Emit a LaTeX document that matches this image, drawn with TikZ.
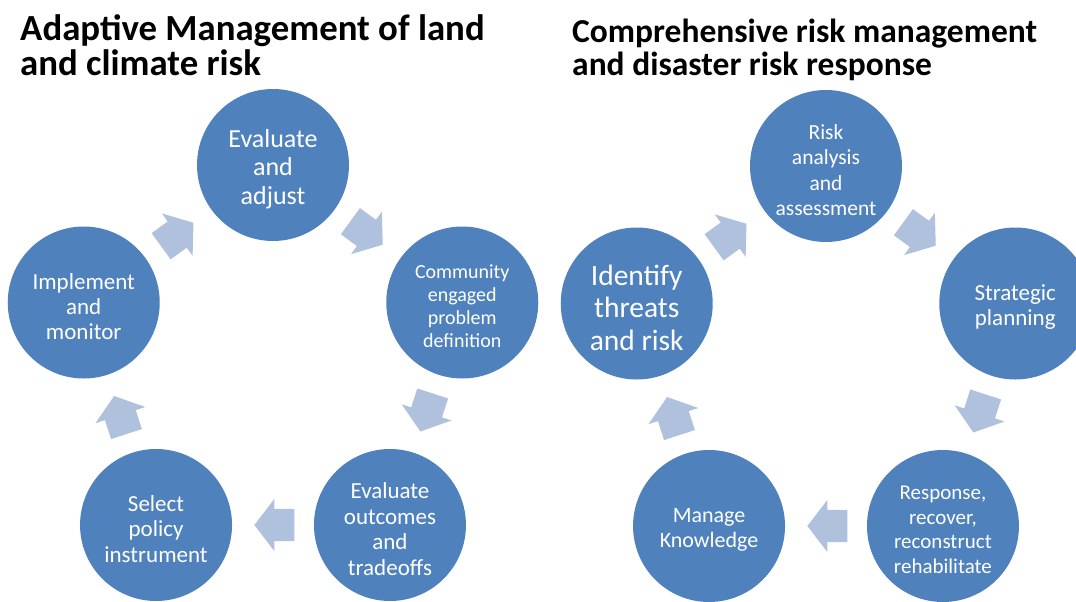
\documentclass[tikz,border=0pt]{standalone}
\usepackage{fontspec}
\setmainfont{Carlito}
\usepackage{xcolor}
\usetikzlibrary{shapes.arrows, math}
\definecolor{myblue}{RGB}{79, 129, 189}
\definecolor{myarrow}{RGB}{176, 193, 222}

\begin{document}
\begin{tikzpicture}[x=1pt, y=-1pt,
 stage/.style={circle, fill=myblue, minimum size=152pt, inner sep=0pt},
 stagetext/.style={text=white, inner sep=0pt, align=center, yshift=-4pt},
 cyclearrow/.style={single arrow, fill=myarrow, minimum height=40pt, inner xsep=0pt, inner ysep=16pt,
  single arrow head extend=10pt, single arrow tip angle=105,
  anchor=tip, pos=0.732, sloped, allow upside down},
 heading/.style={anchor=north west, inner sep=0pt, align=left}]
\tikzmath{
\R=199;%cycle radius
}
\useasboundingbox (0,0) rectangle (1076,602);

%titles
\node[heading, font=\fontsize{36.8}{35}\selectfont\bfseries] (tleft) at (20,14) {Adaptive Management of land\\and climate risk};
\node[heading, font=\fontsize{33.5}{33}\selectfont\bfseries] (tright) at (572,19) {Comprehensive risk management\\and disaster risk response};

%left cycle
\begin{scope}[shift={(273,364)}]
\foreach \i/\ang/\fs/\bs/\txt in {
 1/270/26/28.5/{Evaluate\\and\\adjust},
 2/342/20/23/{Community\\engaged\\problem\\definition},
 3/54/23/25.5/{Evaluate\\outcomes\\and\\tradeoffs},
 4/126/23/25.5/{Select\\policy\\instrument},
 5/198/23/25/{Implement\\and\\monitor}}{
 \node[stage] (L\i) at (\ang:\R) {};
 \node[stagetext, font=\fontsize{\fs}{\bs}\selectfont] (LT\i) at (L\i) {\txt};
}
%arrows
\foreach \a/\b in {1/2,2/3,3/4,4/5,5/1}{
 \path (L\a) -- (L\b) node[cyclearrow] (LA\a) {};
}
\end{scope}

%right cycle
\begin{scope}[shift={(826,365)}]
\foreach \i/\ang/\fs/\bs/\txt in {
 1/270/21.5/25.5/{Risk\\analysis\\and\\assessment},
 2/342/23/25/{Strategic\\planning},
 3/54/21/24.5/{Response,\\recover,\\reconstruct\\rehabilitate},
 4/126/22/25/{Manage\\Knowledge},
 5/198/29.5/32.5/{Identify\\threats\\and risk}}{
 \node[stage] (R\i) at (\ang:\R) {};
 \node[stagetext, font=\fontsize{\fs}{\bs}\selectfont] (RT\i) at (R\i) {\txt};
}
%arrows
\foreach \a/\b in {5/1,1/2,2/3,3/4,4/5}{
 \path (R\a) -- (R\b) node[cyclearrow] (RA\a) {};
}
\end{scope}

\end{tikzpicture}
\end{document}
